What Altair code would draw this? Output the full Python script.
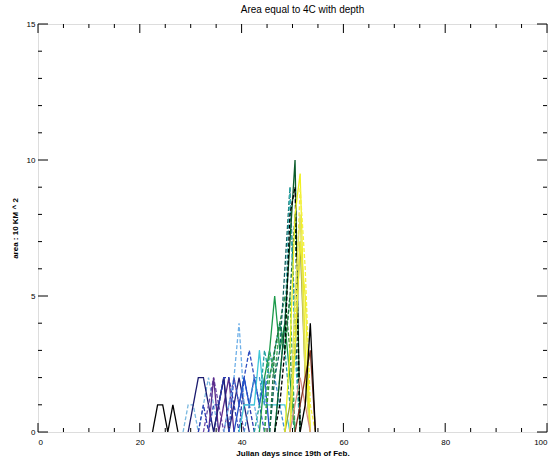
import altair as alt
import pandas as pd

# One line per depth level: (first day, daily area values in 10 km^2)
START_DAY = [22.5, 28.5, 29.5, 32.5, 33.5, 34.5, 31.5, 36.5, 37.5, 38.5,
             39.5, 40.5, 42.5, 43.5, 44.5, 44.5, 45.5, 45.5, 46.5, 46.5,
             46.5, 48.5, 48.5, 49.5, 49.5, 49.5, 49.5, 50.5, 51.5]
AREAS = [
    [0, 1, 1, 0, 1, 0],
    [0, 1, 1, 0, 1, 2, 1, 0],
    [0, 1, 2, 2, 1, 0, 1, 2, 0],
    [0, 1, 2, 1, 0, 1, 2, 1, 0],
    [0, 2, 0, 1, 2, 0],
    [0, 1, 2, 0, 1, 2, 1, 0],
    [0, 1, 0, 1, 1, 2, 2, 1, 0, 2, 1, 0],
    [0, 1, 2, 4, 1, 1, 1, 0],
    [0, 2, 1, 2, 3, 2, 1, 0],
    [0, 1, 2, 1, 2, 1, 2, 0],
    [0, 1, 1, 1, 3, 1, 1, 1, 1, 1, 0],
    [0, 1, 2, 2, 1, 3, 2, 1, 0],
    [0, 1, 3, 2, 3, 4, 3, 1, 0],
    [0, 2, 3, 5, 3, 4, 2, 0],
    [0, 2, 3, 4, 5, 3, 0],
    [0, 3, 2, 4, 3, 5, 0],
    [0, 2, 3, 6, 9, 4, 0],
    [0, 3, 4, 3, 5, 8, 0],
    [0, 2, 4, 9, 3, 0],
    [0, 2, 4, 7, 10, 0],
    [0, 1, 3, 8, 9, 0],
    [0, 1, 3, 7, 2, 0],
    [0, 3, 8, 9.5, 3, 0],
    [0, 4, 9, 6, 1, 0],
    [0, 5, 8, 2, 0],
    [0, 3, 7, 5, 0],
    [0, 1, 2, 1, 0],
    [0, 1, 2, 3, 0],
    [0, 1, 4, 0],
]
COLORS = ["#000000", "#7ab8e0", "#1a1a6e", "#6a4aa8", "#5a2a8a", "#20207a",
          "#2a3ab0", "#6fb0e8", "#3050c0", "#2050c8", "#40c8d8", "#4090d0",
          "#20a0a0", "#1a9a4a", "#2a8a3a", "#3aaa5a", "#106060", "#1a7040",
          "#30b0b0", "#0a5a2a", "#000000", "#9aa030", "#f0f020", "#f4f040",
          "#e0e060", "#ecec30", "#d89080", "#803020", "#000000"]
DASHES = [[1, 0], [4, 2], [1, 0], [4, 2], [1, 0], [1, 0], [4, 2], [4, 2],
          [4, 2], [1, 0], [1, 0], [4, 2], [4, 2], [1, 0], [4, 2], [4, 2],
          [4, 2], [4, 2], [4, 2], [1, 0], [4, 2], [1, 0], [1, 0], [4, 2],
          [1, 0], [1, 0], [1, 0], [1, 0], [1, 0]]
SERIES = ["d%02d" % (i + 1) for i in range(len(AREAS))]

X_MAJOR = [0, 20, 40, 60, 80, 100]
X_MINOR = [5, 10, 15, 25, 30, 35, 45, 50, 55, 65, 70, 75, 85, 90, 95]
Y_MAJOR = [0, 5, 10, 15]
Y_MINOR = [1, 2, 3, 4, 6, 7, 8, 9, 11, 12, 13, 14]

W, H = 509, 408
FONT = "Liberation Sans"

rows = []
for name, start, vals in zip(SERIES, START_DAY, AREAS):
    for i, v in enumerate(vals):
        rows.append({"series": name, "day": start + i, "area": v})
df = pd.DataFrame(rows)

xs = alt.Scale(domain=[0, 100], nice=False, zero=False)
ys = alt.Scale(domain=[0, 15], nice=False)
x_axis = alt.Axis(values=X_MAJOR, title="Julian days since 19th of Feb.",
                  grid=False, ticks=False, domain=False, labelPadding=6,
                  titlePadding=3, labelFontSize=8, titleFontSize=8,
                  titleFontWeight="bold")
y_axis = alt.Axis(values=Y_MAJOR, title="area : 10 KM ^ 2",
                  grid=False, ticks=False, domain=False, labelPadding=3,
                  titlePadding=7, labelFontSize=8, titleFontSize=8,
                  titleFontWeight="bold")

lines = alt.Chart(df).mark_line(strokeWidth=1.3, clip=True).encode(
    x=alt.X("day:Q", scale=xs, axis=x_axis),
    y=alt.Y("area:Q", scale=ys, axis=y_axis),
    color=alt.Color("series:N", scale=alt.Scale(domain=SERIES, range=COLORS), legend=None),
    strokeDash=alt.StrokeDash("series:N", scale=alt.Scale(domain=SERIES, range=DASHES), legend=None),
    order="day:Q",
)

xmaj = pd.DataFrame({"pos": X_MAJOR})
xmin = pd.DataFrame({"pos": X_MINOR})
ymaj = pd.DataFrame({"pos": Y_MAJOR})
ymin = pd.DataFrame({"pos": Y_MINOR})


def xticks(data, y0, y1):
    return alt.Chart(data).mark_rule(color="black", strokeWidth=1).encode(
        x=alt.X("pos:Q", scale=xs, axis=x_axis), y=alt.value(y0), y2=alt.value(y1))


def yticks(data, x0, x1):
    return alt.Chart(data).mark_rule(color="black", strokeWidth=1).encode(
        y=alt.Y("pos:Q", scale=ys, axis=y_axis), x=alt.value(x0), x2=alt.value(x1))


ticks = [
    xticks(xmaj, H, H - 9), xticks(xmin, H, H - 4),
    xticks(xmaj, 0, 9), xticks(xmin, 0, 4),
    yticks(ymaj, 0, 10), yticks(ymin, 0, 4),
    yticks(ymaj, W, W - 10), yticks(ymin, W, W - 4),
]

chart = alt.layer(lines, *ticks).properties(
    width=W, height=H,
    title=alt.TitleParams("Area equal to 4C with depth", fontSize=10,
                          fontWeight="normal", font=FONT, offset=5, dx=10),
    autosize=alt.AutoSizeParams(type="none"),
    padding={"left": 38, "top": 24, "right": 9, "bottom": 34},
).configure_view(stroke="black", strokeWidth=1).configure_axis(
    domain=False, ticks=False, grid=False, labelFont=FONT, titleFont=FONT,
    labelColor="black", titleColor="black",
).configure(background="white")

chart.save("out.html", embed_options={"renderer": "svg", "actions": False})
